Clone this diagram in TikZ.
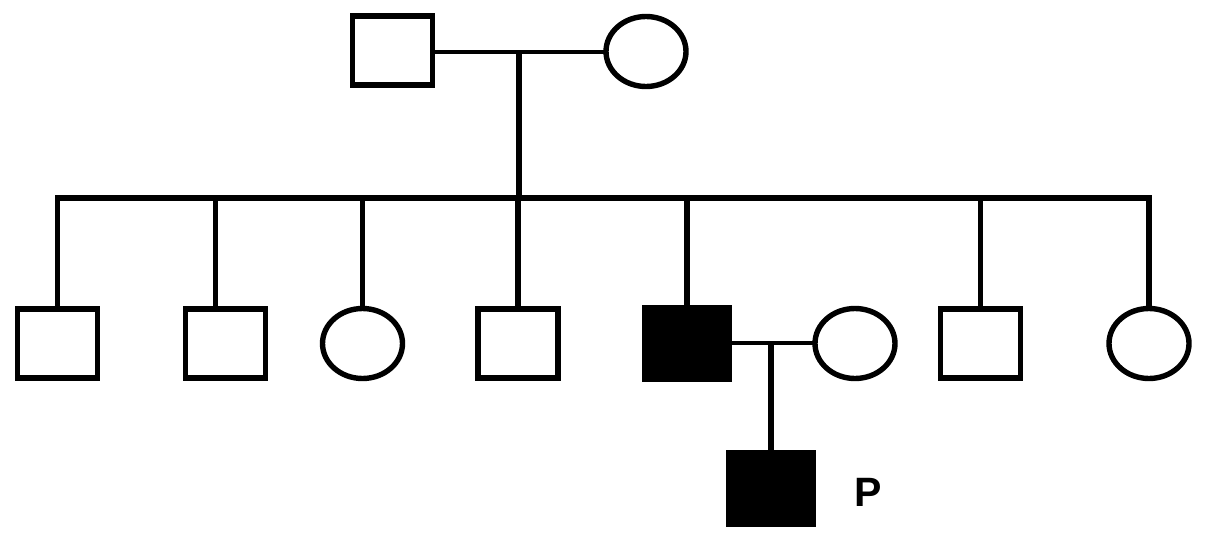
\documentclass[tikz,border=0pt]{standalone}
\usepackage{fontspec}
\setmainfont{Liberation Sans}
\usetikzlibrary{shapes.geometric}
\begin{document}
\begin{tikzpicture}[x=1pt,y=-1pt,
  lw/.style={line width=5.4pt},
  male/.style={draw,lw,rectangle,minimum width=80pt,minimum height=69pt,inner sep=0pt,outer sep=0pt},
  female/.style={draw,lw,ellipse,minimum width=80pt,minimum height=70pt,inner sep=0pt,outer sep=0pt},
  affected/.style={draw,lw,fill=black,rectangle,minimum width=85pt,minimum height=72pt,inner sep=0pt,outer sep=0pt},
  link/.style={lw,line join=miter},
  thinlink/.style={line width=4.4pt}]
\useasboundingbox (0,0) rectangle (1205,541);
% generation I
\node[male] (f) at (392.5,50.5) {};
\node[female] (m) at (646,51.5) {};
% generation II
\node[male] (a) at (57.5,343.5) {};
\node[male] (b) at (225.5,343.5) {};
\node[female] (c) at (362.5,343.5) {};
\node[male] (d) at (518,343.5) {};
\node[affected] (e) at (687,343.5) {};
\node[female] (w) at (855,343.5) {};
\node[male] (g) at (980.5,343.5) {};
\node[female] (h) at (1149,343.5) {};
% generation III
\node[affected] (p) at (771,488.5) {};
\node[font=\bfseries\fontsize{41}{41}\selectfont] (plabel) at (868,492) {P};
% connectors
\coordinate (mj) at (519,52);
\coordinate (sib) at (519,198);
\coordinate (mj2) at (771,343);
\draw[thinlink] (f.east |- mj) -- (m.west |- mj);
\draw[link] (mj) -- (sib);
\draw[link] (a.north) |- (sib) -| (h.north);
\draw[link] ([xshift=-10pt]b.north) -- ([xshift=-10pt]b.north |- sib);
\draw[link] (c.north) -- (c.north |- sib);
\draw[link] (d.north) -- (d.north |- sib);
\draw[link] (e.north) -- (e.north |- sib);
\draw[link] (g.north) -- (g.north |- sib);
\draw[thinlink] (e.east |- mj2) -- (w.west |- mj2);
\draw[link] (mj2) -- (p.north);
\end{tikzpicture}
\end{document}
